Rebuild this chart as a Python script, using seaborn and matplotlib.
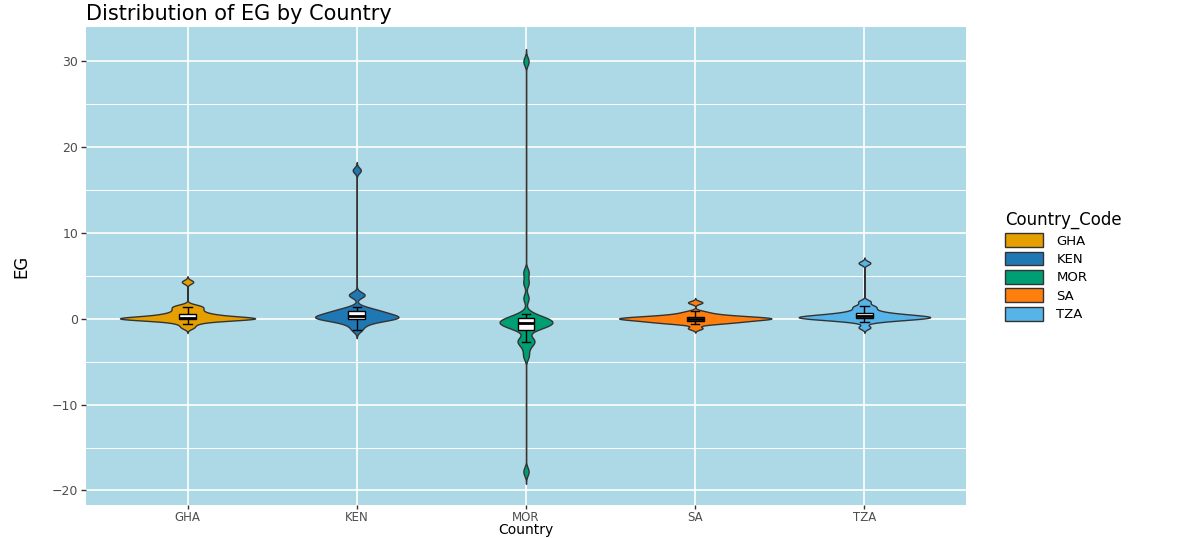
import numpy as np
import pandas as pd
import matplotlib
matplotlib.use("Agg")
import matplotlib.pyplot as plt
from matplotlib.patches import Patch
from matplotlib.ticker import MultipleLocator
import seaborn as sns

# Observed EG values per country
countries = ["GHA", "KEN", "MOR", "SA", "TZA"]
eg_gha = [-1.0, -0.6, -0.35, -0.2, -0.1, -0.05, -0.02, 0.0, 0.02, 0.04, 0.06, 0.08,
          0.1, 0.13, 0.2, 0.3, 0.42, 0.52, 0.6, 0.8, 1.0, 1.2, 1.4, 1.55, 4.3]
eg_ken = [-1.3, -0.8, -0.5, -0.3, -0.14, -0.05, 0.0, 0.05, 0.1, 0.15, 0.22, 0.29,
          0.35, 0.45, 0.55, 0.65, 0.72, 0.85, 1.0, 1.1, 1.35, 2.7, 2.85, 17.3]
eg_mor = [-17.8, -4.3, -3.3, -2.7, -2.55, -2.4, -1.25, -1.05, -0.9, -0.78, -0.66, -0.56,
          -0.5, -0.4, -0.3, -0.2, -0.1, -0.02, 0.1, 0.3, 0.6, 2.4, 4.2, 5.4, 30.0]
eg_sa = [-1.1, -0.6, -0.5, -0.42, -0.36, -0.3, -0.24, -0.18, -0.12, -0.07, -0.03, 0.0,
         0.02, 0.05, 0.08, 0.12, 0.16, 0.2, 0.25, 0.3, 0.38, 0.48, 0.62, 0.85, 1.9]
eg_tza = [-1.0, -0.35, -0.2, -0.1, -0.04, -0.02, 0.05, 0.1, 0.14, 0.16, 0.19, 0.23,
          0.27, 0.31, 0.36, 0.42, 0.48, 0.56, 0.65, 0.8, 1.0, 1.3, 1.5, 2.0, 6.5]

colors = ["#E69F00", "#1F78B4", "#009E73", "#FF7F0E", "#56B4E9"]

series = [eg_gha, eg_ken, eg_mor, eg_sa, eg_tza]
df = pd.DataFrame({
    "Country": np.repeat(countries, [len(s) for s in series]),
    "EG": np.concatenate([np.asarray(s, float) for s in series]),
})
palette = dict(zip(countries, colors))
outline = "#333333"


def nrd0(kde):
    """Silverman's rule of thumb (R's bw.nrd0), robust to outliers."""
    x = np.asarray(kde.dataset).ravel()
    sd = x.std(ddof=1)
    q75, q25 = np.percentile(x, [75, 25])
    lo = min(sd, (q75 - q25) / 1.34)
    bw = 0.9 * lo * len(x) ** -0.2
    return bw / sd


W, H = 1179, 538
left, right, top, bottom = 86, 966, 27, 505
fig = plt.figure(figsize=(W / 100, H / 100), dpi=100)
ax = fig.add_axes([left / W, 1 - bottom / H, (right - left) / W, (bottom - top) / H])
ax.set_facecolor("#ADD8E6")

# Untrimmed violins: tails run three bandwidths past the data
sns.violinplot(data=df, x="Country", y="EG", hue="Country", order=countries,
               hue_order=countries, palette=palette, inner=None, cut=3,
               density_norm="area", common_norm=True, width=0.9, linewidth=1.0,
               linecolor=outline, saturation=1, bw_method=nrd0, gridsize=512,
               legend=False, ax=ax)
sns.boxplot(data=df, x="Country", y="EG", order=countries, width=0.1,
            color="white", linecolor="black", linewidth=1.0, showfliers=False,
            saturation=1, medianprops={"linewidth": 2}, ax=ax)

ax.set_xlim(-0.6, 4.6)
ax.set_ylim(-21.7, 34.0)
ax.yaxis.set_major_locator(MultipleLocator(10))
ax.yaxis.set_minor_locator(MultipleLocator(5))
ax.set_axisbelow(True)
ax.grid(which="major", color="white", linewidth=1.2)
ax.grid(which="minor", axis="y", color="white", linewidth=0.7)
for s in ax.spines.values():
    s.set_visible(False)
ax.tick_params(which="major", length=3.5, width=1, color="#333333",
               labelcolor="#4D4D4D", labelsize=9, pad=2)
ax.tick_params(axis="x", which="major", length=3, pad=1, labelsize=8.5)
ax.tick_params(which="minor", length=0)

ax.set_title("Distribution of EG by Country", loc="left", fontsize=15, pad=5)
ax.set_xlabel("Country", fontsize=10)
ax.xaxis.set_label_coords(0.5, (bottom - 523) / (bottom - top))
ax.set_ylabel("EG", fontsize=12)
ax.yaxis.set_label_coords(-0.063, 0.5)

handles = [Patch(facecolor=palette[c], edgecolor=outline, linewidth=1.0, label=c)
           for c in countries]
fig.legend(handles=handles, loc="center left",
           bbox_to_anchor=(1005 / W, 1 - 266 / H), frameon=False,
           title="Country_Code", fontsize=9.5, title_fontsize=12,
           handlelength=2.9, handleheight=1.25, labelspacing=0.3,
           handletextpad=1.0, borderaxespad=0, borderpad=0, alignment="left")

fig.savefig("out.png", dpi=100)
